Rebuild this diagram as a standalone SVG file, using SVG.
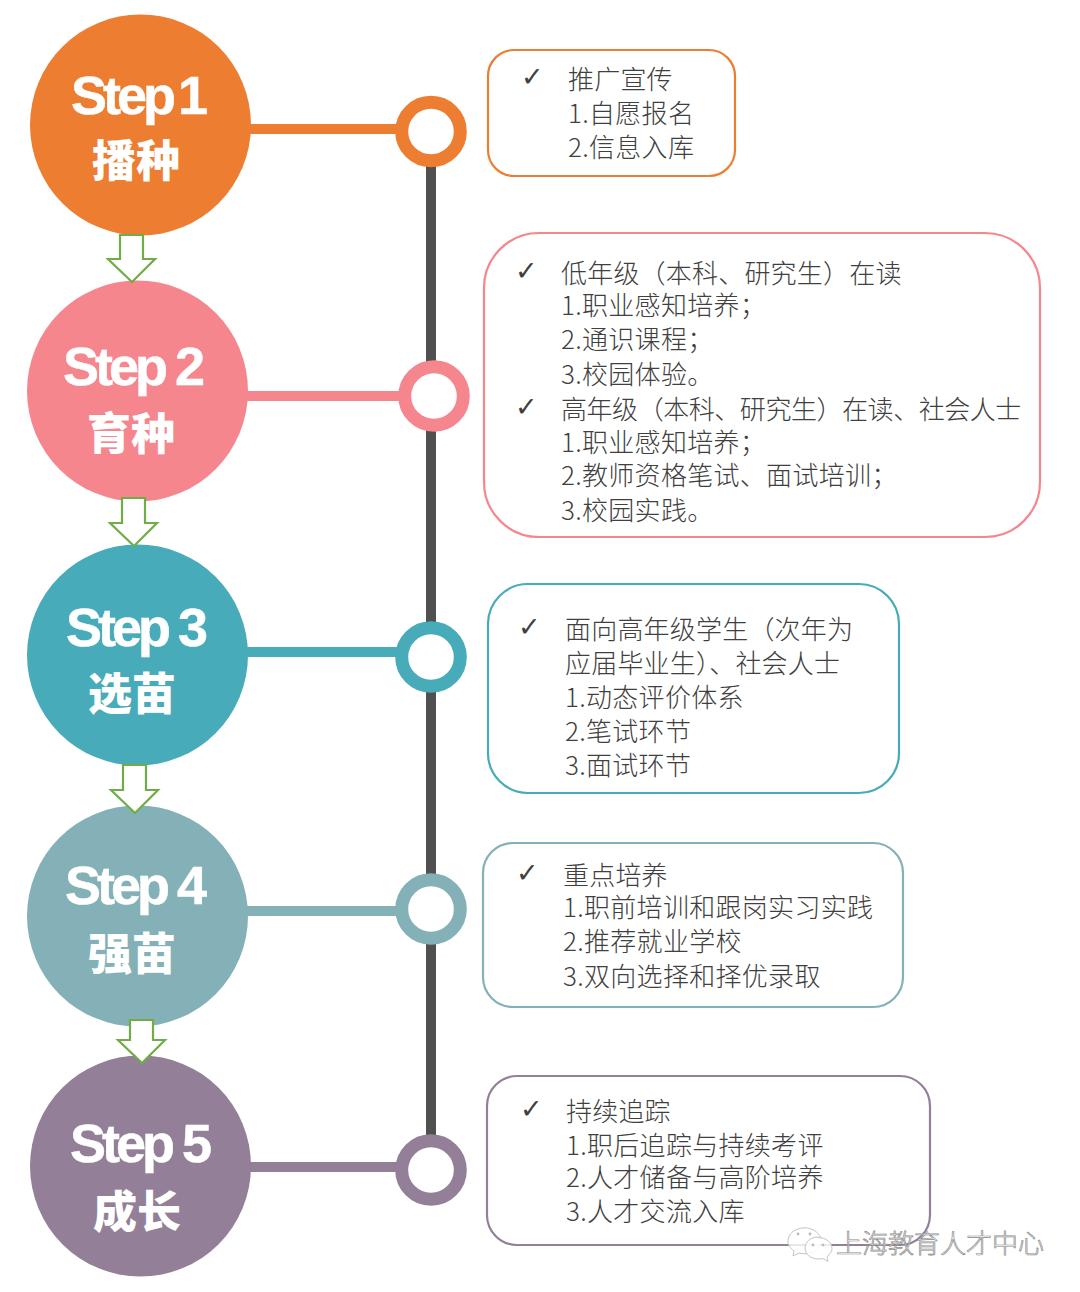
<svg xmlns="http://www.w3.org/2000/svg" width="1080" height="1292" viewBox="0 0 1080 1292">
<style>
.step{font-family:"Liberation Sans",Arial,sans-serif;font-weight:700;font-size:54px;fill:#fff;stroke:#fff;stroke-width:.5;text-anchor:middle;letter-spacing:-4px}
.name{font-family:"Noto Sans CJK SC",sans-serif;font-weight:900;font-size:44px;fill:#fff;text-anchor:middle}
.t{font-family:"Noto Sans CJK SC",sans-serif;font-weight:300;font-size:26px;fill:#404040;letter-spacing:.2px}
.n{font-family:"Noto Sans CJK SC",sans-serif;font-weight:300;font-size:26px;fill:#404040;letter-spacing:.3px}
.c{font-family:"DejaVu Sans",sans-serif;font-size:27px;fill:#404040}
.box{fill:#fff;stroke-width:2.2}
.ring{fill:#fff;stroke-width:13}
.arr{fill:#fff;stroke:#70ad47;stroke-width:2.2}
.wm{font-family:"Noto Sans CJK SC",sans-serif;font-weight:300;font-size:26px;fill:#fff;stroke:#8a8a8a;stroke-width:.7;fill-opacity:.75}
</style>
<g id="connectors">
<rect x="426" y="131" width="10" height="1039" fill="#505050"/>
<rect x="245" y="124" width="160" height="10" fill="#ed7d31"/>
<rect x="242" y="391" width="165" height="10" fill="#f6868e"/>
<rect x="242" y="647" width="165" height="10" fill="#47abb9"/>
<rect x="242" y="906" width="165" height="10" fill="#84b1b7"/>
<rect x="245" y="1162" width="160" height="10" fill="#937f98"/>
</g>
<g id="step1"><circle cx="140.5" cy="125" r="110.5" fill="#ed7d31"/><text class="step" x="137.5" y="114" style="word-spacing:-5px">Step 1</text><text class="name" x="136" y="177">播种</text></g>
<g id="step2"><circle cx="137.5" cy="391" r="110.5" fill="#f6868e"/><text class="step" x="132" y="385">Step 2</text><text class="name" x="131" y="450">育种</text></g>
<g id="step3"><circle cx="137.5" cy="655" r="110.5" fill="#47abb9"/><text class="step" x="135" y="646">Step 3</text><text class="name" x="132" y="710">选苗</text></g>
<g id="step4"><circle cx="137.5" cy="916" r="110.5" fill="#84b1b7"/><text class="step" x="134" y="904">Step 4</text><text class="name" x="132" y="970">强苗</text></g>
<g id="step5"><circle cx="140.5" cy="1166" r="110.5" fill="#937f98"/><text class="step" x="139" y="1162">Step 5</text><text class="name" x="137" y="1228">成长</text></g>
<g id="arrows">
<polygon class="arr" points="120,235 143,235 143,259 155,259 132,282 108,259 120,259"/>
<polygon class="arr" points="122,498 145,498 145,523 157,523 134,546 110,523 122,523"/>
<polygon class="arr" points="123,765 146,765 146,790 158,790 135,813 111,790 123,790"/>
<polygon class="arr" points="130,1020 153,1020 153,1040 165,1040 142,1063 118,1040 130,1040"/>
</g>
<g id="ring1"><circle class="ring" cx="431" cy="131.5" r="29.3" stroke="#ed7d31"/></g>
<g id="ring2"><circle class="ring" cx="434" cy="396" r="29.3" stroke="#f6868e"/></g>
<g id="ring3"><circle class="ring" cx="431" cy="657" r="29.3" stroke="#47abb9"/></g>
<g id="ring4"><circle class="ring" cx="431" cy="909" r="29.3" stroke="#84b1b7"/></g>
<g id="ring5"><circle class="ring" cx="431" cy="1170" r="29.3" stroke="#937f98"/></g>
<g id="box1"><rect class="box" x="488" y="50" width="247" height="126" rx="26" stroke="#ed7d31"/>
<text class="c" x="521" y="86">✓</text>
<text class="t" x="568" y="89">推广宣传</text><text class="n" x="568" y="123">1.自愿报名</text><text class="n" x="568" y="157">2.信息入库</text></g>
<g id="box2"><rect class="box" x="484" y="233" width="556" height="304" rx="55" stroke="#f6868e"/>
<text class="c" x="515" y="280">✓</text><text class="c" x="515" y="416">✓</text>
<text class="t" x="561" y="283">低年级（本科、研究生）在读</text><text class="n" x="561" y="315">1.职业感知培养；</text><text class="n" x="561" y="349">2.通识课程；</text><text class="n" x="561" y="384">3.校园体验。</text>
<text class="t" x="561" y="419" style="letter-spacing:-.45px">高年级（本科、研究生）在读、社会人士</text><text class="n" x="561" y="452">1.职业感知培养；</text><text class="n" x="561" y="485">2.教师资格笔试、面试培训；</text><text class="n" x="561" y="520">3.校园实践。</text></g>
<g id="box3"><rect class="box" x="488" y="584" width="411" height="209" rx="40" stroke="#47abb9"/>
<text class="c" x="518" y="636">✓</text>
<text class="t" x="565" y="639">面向高年级学生（次年为</text><text class="t" x="565" y="673">应届毕业生）、社会人士</text><text class="n" x="565" y="707">1.动态评价体系</text><text class="n" x="565" y="741">2.笔试环节</text><text class="n" x="565" y="775">3.面试环节</text></g>
<g id="box4"><rect class="box" x="483" y="843" width="420" height="164" rx="30" stroke="#84b1b7"/>
<text class="c" x="516" y="882">✓</text>
<text class="t" x="563" y="885">重点培养</text><text class="n" x="563" y="917">1.职前培训和跟岗实习实践</text><text class="n" x="563" y="951">2.推荐就业学校</text><text class="n" x="563" y="986">3.双向选择和择优录取</text></g>
<g id="box5"><rect class="box" x="487" y="1076" width="443" height="169" rx="30" stroke="#937f98"/>
<text class="c" x="520" y="1118">✓</text>
<text class="t" x="566" y="1121">持续追踪</text><text class="n" x="566" y="1155">1.职后追踪与持续考评</text><text class="n" x="566" y="1187">2.人才储备与高阶培养</text><text class="n" x="566" y="1221">3.人才交流入库</text></g>
<g id="watermark">
<path d="M804 1228c-9 0-16 6-16 13 0 4 2 7 6 10l-1 5 6-3c2 .5 4 .7 6 .7 9 0 16-6 16-13s-8-13-17-13z" fill="#fff" fill-opacity=".8" stroke="#c4c4c4"/>
<path d="M818 1237c-7 0-13 5-13 11s6 11 13 11c2 0 3 0 5-.5l5 3-1-5c3-2 5-5 5-8 0-6-6-11-14-11z" fill="#fff" fill-opacity=".85" stroke="#c4c4c4"/>
<g fill="#bbb"><circle cx="798" cy="1234" r="1.4"/><circle cx="810" cy="1234" r="1.4"/><circle cx="813" cy="1245" r="1.4"/><circle cx="823" cy="1245" r="1.4"/></g>
<text class="wm" x="836" y="1253">上海教育人才中心</text>
</g>
</svg>
